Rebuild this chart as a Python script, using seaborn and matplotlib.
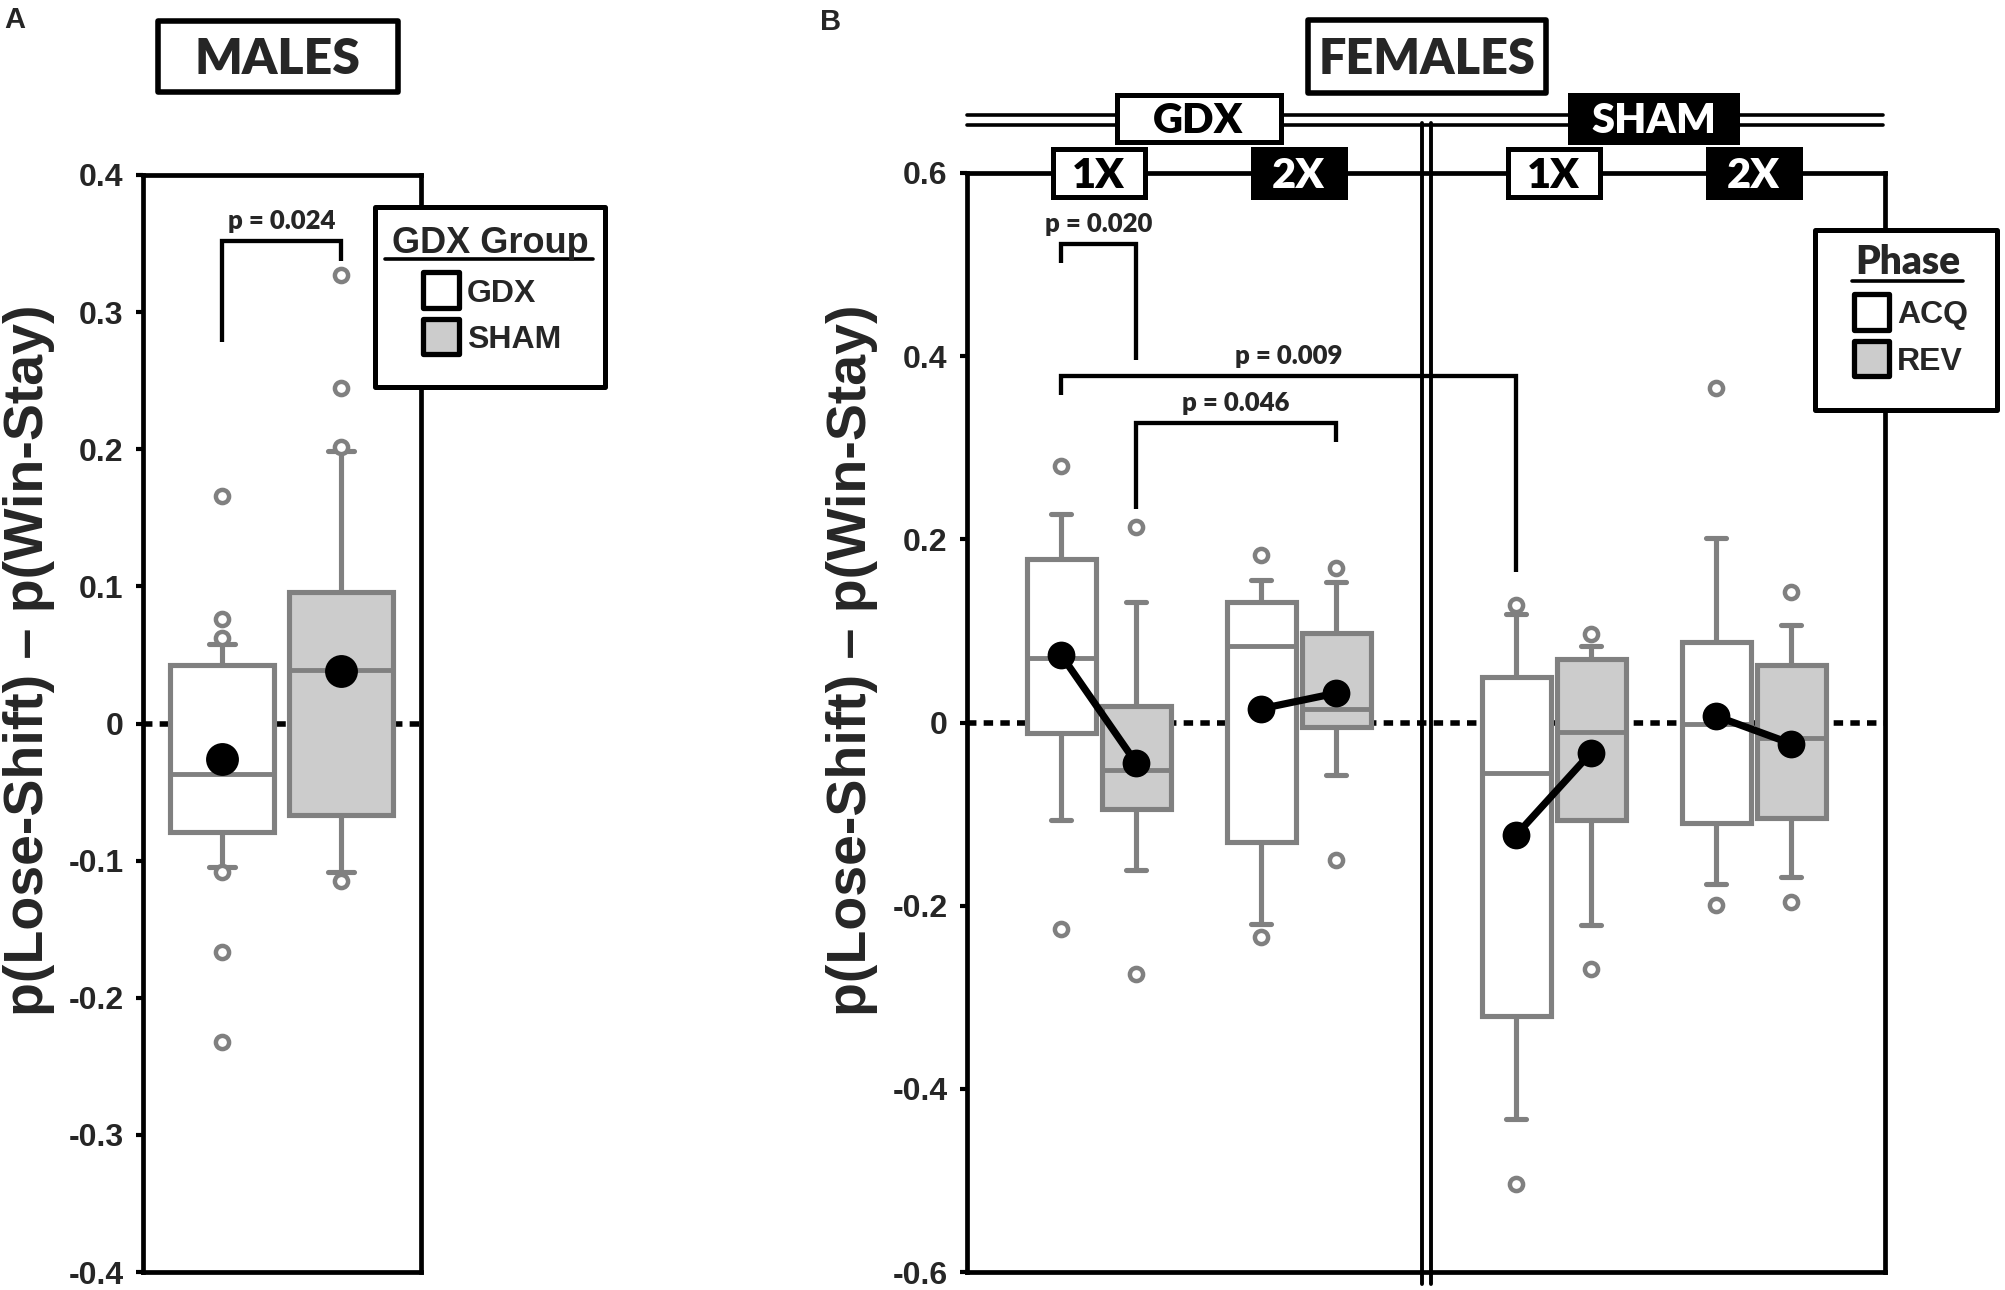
# -*- coding: utf-8 -*-
# Lose-shift minus win-stay boxplots, males (A) and females (B).
import numpy as np
import pandas as pd
import matplotlib
matplotlib.use('Agg')
import matplotlib.pyplot as plt
import matplotlib.transforms as mtransforms
from matplotlib.patches import Rectangle
from matplotlib.lines import Line2D
import seaborn as sns

# --------------
# Data
# --------------
male_groups = ['GDX', 'SHAM']
male_q1 = [-0.079, -0.067]
male_med = [-0.037, 0.039]
male_q3 = [0.043, 0.096]
male_whislo = [-0.105, -0.108]
male_whishi = [0.058, 0.199]
male_mean = [-0.026, 0.038]
male_fliers = [[0.166, 0.076, 0.062, -0.108, -0.167, -0.232],
               [0.327, 0.245, 0.202, -0.115]]

fem_hormone = ['GDX', 'GDX', 'GDX', 'GDX', 'SHAM', 'SHAM', 'SHAM', 'SHAM']
fem_dose = ['1X', '1X', '2X', '2X', '1X', '1X', '2X', '2X']
fem_phase = ['ACQ', 'REV', 'ACQ', 'REV', 'ACQ', 'REV', 'ACQ', 'REV']
fem_q1 = [-0.012, -0.094, -0.131, -0.005, -0.321, -0.106, -0.110, -0.104]
fem_med = [0.070, -0.052, 0.084, 0.015, -0.055, -0.010, -0.002, -0.017]
fem_q3 = [0.178, 0.018, 0.132, 0.098, 0.050, 0.069, 0.088, 0.063]
fem_whislo = [-0.106, -0.161, -0.220, -0.057, -0.433, -0.221, -0.176, -0.169]
fem_whishi = [0.228, 0.132, 0.156, 0.153, 0.118, 0.084, 0.201, 0.107]
fem_mean = [0.074, -0.044, 0.015, 0.032, -0.123, -0.033, 0.007, -0.023]
fem_fliers = [[0.280, -0.225], [0.213, -0.275], [0.183, -0.234], [0.169, -0.150],
              [0.128, -0.504], [0.097, -0.269], [0.365, -0.199], [0.143, -0.196]]

# p-value brackets: (label, index left, index right, left foot, top, right foot)
male_pvals = [('p = 0.024', 0, 1, 0.278, 0.352, 0.337)]
fem_pvals = [('p = 0.020', 0, 1, 0.502, 0.522, 0.396),
             ('p = 0.009', 0, 4, 0.358, 0.378, 0.164),
             ('p = 0.046', 1, 3, 0.233, 0.327, 0.306)]

yticks_male = [0.4, 0.3, 0.2, 0.1, 0, -0.1, -0.2, -0.3, -0.4]
yticklabels_male = ['0.4', '0.3', '0.2', '0.1', '0', '-0.1', '-0.2', '-0.3', '-0.4']
yticks_fem = [0.6, 0.4, 0.2, 0, -0.2, -0.4, -0.6]
yticklabels_fem = ['0.6', '0.4', '0.2', '0', '-0.2', '-0.4', '-0.6']

# --------------
# Style
# --------------
sns.set_theme(style='white')
plt.rcParams['font.family'] = ['Liberation Sans', 'DejaVu Sans']
plt.rcParams['font.weight'] = 'bold'
plt.rcParams['axes.unicode_minus'] = False

GREY = '#808080'
LIGHT = '#cccccc'
FILL = {'GDX': 'white', 'SHAM': LIGHT, 'ACQ': 'white', 'REV': LIGHT}
CAL = ['Lato', 'DejaVu Sans']
CAL_W = 'heavy'
W, H = 2005, 1290


def fx(px):
    return px / W


def fy(py):
    return 1 - py / H


fig = plt.figure(figsize=(W / 100, H / 100), dpi=100)
axA = fig.add_axes([fx(143), fy(1272), (421 - 143) / W, (1272 - 175) / H])
axB = fig.add_axes([fx(967), fy(1272), (1885 - 967) / W, (1272 - 173) / H])


def make_stats(q1, med, q3, lo, hi, fliers):
    return [dict(q1=a, med=b, q3=c, whislo=d, whishi=e, fliers=f)
            for a, b, c, d, e, f in zip(q1, med, q3, lo, hi, fliers)]


def draw_boxes(ax, stats, pos, faces, width, capw):
    bp = ax.bxp(stats, positions=pos, widths=width, capwidths=capw,
                patch_artist=True, manage_ticks=False, zorder=2,
                boxprops=dict(edgecolor=GREY, linewidth=3.7),
                whiskerprops=dict(color=GREY, linewidth=3.7, solid_capstyle='butt'),
                capprops=dict(color=GREY, linewidth=3.7),
                medianprops=dict(color=GREY, linewidth=3.5),
                flierprops=dict(marker='o', markerfacecolor='white',
                                markeredgecolor=GREY, markersize=9.5,
                                markeredgewidth=3.2))
    for patch, fc in zip(bp['boxes'], faces):
        patch.set_facecolor(fc)
    return bp


def style_axes(ax, ticks, labels):
    ax.set_yticks(ticks)
    ax.set_yticklabels(labels)
    ax.set_xticks([])
    ax.tick_params(axis='y', direction='out', length=5, width=3, color='black',
                   labelsize=23, pad=9, left=True)
    for sp in ax.spines.values():
        sp.set_visible(True)
        sp.set_color('black')
        sp.set_linewidth(3.4)
    ax.axhline(0, color='black', lw=4, ls=(0, (1.7, 1.3)), zorder=1)
    ax.set_xlabel('')
    ax.set_ylabel('p(Lose-Shift) \u2013 p(Win-Stay)', fontsize=40, fontweight='bold')


def draw_pvals(ax, pvals, pos):
    span = ax.get_ylim()[1] - ax.get_ylim()[0]
    for label, i, j, y1, ytop, y2 in pvals:
        x1, x2 = pos[i], pos[j]
        ax.plot([x1, x1, x2, x2], [y1, ytop, ytop, y2], color='black', lw=3.1,
                solid_joinstyle='miter', solid_capstyle='butt', zorder=5, clip_on=False)
        ax.text((x1 + x2) / 2, ytop + 0.0112 * span, label, ha='center', va='baseline',
                fontsize=18.5, fontweight=CAL_W, family=CAL, zorder=5)


# --------------
# Panel A: males
# --------------
male_pos = [0, 1]
stats_m = make_stats(male_q1, male_med, male_q3, male_whislo, male_whishi, male_fliers)
draw_boxes(axA, stats_m, male_pos, [FILL[g] for g in male_groups], 0.88, 0.22)
sns.scatterplot(x=male_pos, y=male_mean, s=560, color='black', edgecolor='black',
                linewidth=0, zorder=4, ax=axA, legend=False)
axA.set_xlim(-0.664, 1.672)
axA.set_ylim(-0.4, 0.4)
style_axes(axA, yticks_male, yticklabels_male)
axA.yaxis.set_label_coords(-0.3165, 0.558)
draw_pvals(axA, male_pvals, male_pos)

# --------------
# Panel B: females
# --------------
pair_centers = {('GDX', '1X'): 0.0, ('GDX', '2X'): 2.0,
                ('SHAM', '1X'): 4.55, ('SHAM', '2X'): 6.55}
phase_offset = {'ACQ': -0.375, 'REV': 0.375}
fem_pos = [pair_centers[(h, d)] + phase_offset[p]
           for h, d, p in zip(fem_hormone, fem_dose, fem_phase)]
stats_f = make_stats(fem_q1, fem_med, fem_q3, fem_whislo, fem_whishi, fem_fliers)
draw_boxes(axB, stats_f, fem_pos, [FILL[p] for p in fem_phase], 0.69, 0.2)

df_means = pd.DataFrame({'pos': fem_pos, 'mean': fem_mean,
                         'pair': [h + d for h, d in zip(fem_hormone, fem_dose)]})
sns.lineplot(data=df_means, x='pos', y='mean', units='pair', estimator=None,
             color='black', lw=5.2, marker='o', markersize=20, markeredgewidth=0,
             zorder=4, ax=axB, legend=False)
axB.set_xlim(-1.315, 7.865)
axB.set_ylim(-0.6, 0.6)
style_axes(axB, yticks_fem, yticklabels_fem)
axB.yaxis.set_label_coords(-0.097, 0.557)
draw_pvals(axB, fem_pvals, fem_pos)

# divider between GDX and SHAM, and the double line along the top
blend = mtransforms.blended_transform_factory(axB.transData, axB.transAxes)
x_div = (pair_centers[('GDX', '2X')] + pair_centers[('SHAM', '1X')]) / 2
for dx in (-0.045, 0.045):
    axB.add_line(Line2D([x_div + dx, x_div + dx], [-0.011, 1.0455], transform=blend,
                        color='black', lw=2.8, clip_on=False, zorder=6))
for yy in (1.0528, 1.0437):
    axB.add_line(Line2D([0, 0.998], [yy, yy], transform=axB.transAxes,
                        color='black', lw=2.6, clip_on=False, zorder=6))


def data_box(ax, xc, yc, w, h, text, dark, fs):
    tr = mtransforms.blended_transform_factory(ax.transData, ax.transAxes)
    ax.add_patch(Rectangle((xc - w / 2, yc - h / 2), w, h, transform=tr,
                           facecolor='black' if dark else 'white', edgecolor='black',
                           lw=3.6, clip_on=False, zorder=7))
    ax_h = ax.get_window_extent().height
    ax.text(xc, yc - 0.5 * fs / ax_h, text, transform=tr, ha='center', va='baseline',
            fontsize=fs, fontweight=CAL_W, family=CAL,
            color='white' if dark else 'black', zorder=8, clip_on=False)


for (h, d), xc in pair_centers.items():
    data_box(axB, xc, 1.0, 0.92, 0.0428, d, d == '2X', 30)
data_box(axB, (pair_centers[('GDX', '1X')] + pair_centers[('GDX', '2X')]) / 2,
         1.0496, 1.64, 0.0428, 'GDX', False, 30)
data_box(axB, (pair_centers[('SHAM', '1X')] + pair_centers[('SHAM', '2X')]) / 2,
         1.0496, 1.67, 0.0428, 'SHAM', True, 30)


# --------------
# Figure-level boxes, legends and panel letters
# --------------
def fig_rect(x0, y0, x1, y1, fc, lw):
    fig.add_artist(Rectangle((fx(x0), fy(y1)), (x1 - x0) / W, (y1 - y0) / H,
                             transform=fig.transFigure, facecolor=fc,
                             edgecolor='black', lw=lw, joinstyle='round', zorder=9))


def fig_title_box(cx, cy, w, h, text, fs):
    fig_rect(cx - w / 2, cy - h / 2, cx + w / 2, cy + h / 2, 'white', 4)
    fig.text(fx(cx), fy(cy + 0.5 * fs), text, ha='center', va='baseline',
             fontsize=fs, fontweight=CAL_W, family=CAL, zorder=10)


fig_title_box(278, 56.5, 240, 71, 'MALES', 36)
fig_title_box(1427, 56.5, 238, 73, 'FEMALES', 35)


def fig_legend(frame, title, title_font, title_w, title_fs, title_cx, title_base, underline,
               labels, faces, hx, hw, hh, centers, label_x, fs):
    fig_rect(*frame, 'white', 3.6)
    fig.text(fx(title_cx), fy(title_base), title, ha='center', va='baseline',
             fontsize=title_fs, fontweight=title_w, family=title_font, zorder=10)
    ux0, ux1, uy = underline
    fig.add_artist(Line2D([fx(ux0), fx(ux1)], [fy(uy), fy(uy)], transform=fig.transFigure,
                          color='black', lw=2.6, zorder=10))
    for lab, fc, cy in zip(labels, faces, centers):
        fig_rect(hx, cy - hh / 2, hx + hw, cy + hh / 2, fc, 3.8)
        fig.text(fx(label_x), fy(cy + 0.5 * fs), lab, ha='left', va='baseline',
                 fontsize=fs, fontweight='bold', zorder=10)


fig_legend((375, 207, 605, 387), 'GDX Group', ['Liberation Sans', 'DejaVu Sans'], 'bold', 26,
           490, 253, (385, 593, 259), male_groups, [FILL[g] for g in male_groups],
           423, 36, 35, [290, 336.5], 467, 23)
fig_legend((1815, 230, 1997, 410), 'Phase', CAL, CAL_W, 28, 1908, 274, (1852, 1963, 281),
           ['ACQ', 'REV'], [FILL['ACQ'], FILL['REV']],
           1854, 35, 35, [312, 358.5], 1897, 23)

fig.text(fx(4), fy(28), 'A', ha='left', va='baseline', fontsize=21, fontweight='bold')
fig.text(fx(820), fy(30), 'B', ha='left', va='baseline', fontsize=21, fontweight='bold')

fig.savefig('out.png', dpi=100)
print('// complete ....... plot')
